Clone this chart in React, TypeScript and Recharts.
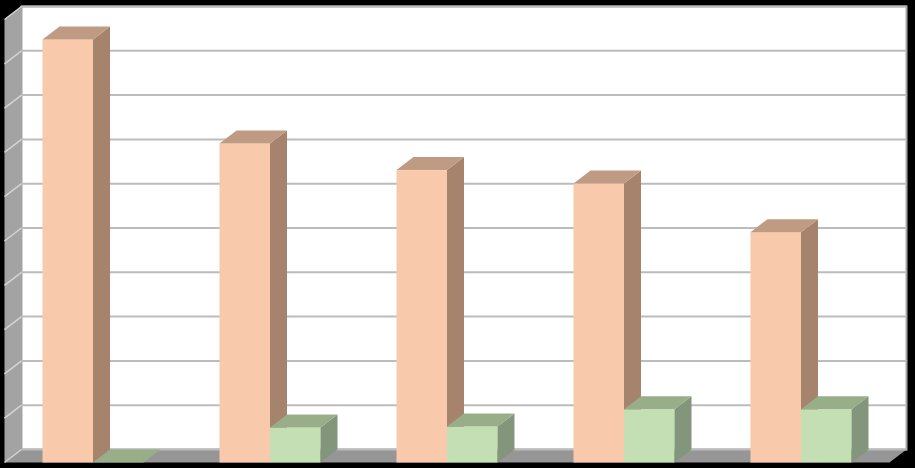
import { BarChart, Bar, XAxis, YAxis, CartesianGrid, ReferenceArea } from 'recharts';

const categories = ['A', 'B', 'C', 'D', 'E'];
const peachValues = [95.5, 72, 66, 63, 52];
const greenValues = [0, 7.9, 8.1, 12, 12];
const valueTicks = [0, 10, 20, 30, 40, 50, 60, 70, 80, 90, 100];

const data = categories.map((name, i) => ({
  name,
  peach: peachValues[i],
  green: greenValues[i],
}));

// 3d offset of the back wall from the front plane
const DX = 17;
const DY = 13;

const peachFaces = { front: '#f8caab', side: '#a6836c', top: '#c09b83' };
const greenFaces = { front: '#c4dfb4', side: '#83957a', top: '#97ae88' };

function box(faces: typeof peachFaces) {
  return function BoxShape(props: any) {
    const { x, y, width, height } = props;
    const r = x + width;
    const b = y + height;
    return (
      <g>
        <rect x={x} y={y} width={width} height={height} fill={faces.front} />
        <polygon
          points={`${r},${y} ${r + DX},${y - DY} ${r + DX},${b - DY} ${r},${b}`}
          fill={faces.side}
        />
        <polygon
          points={`${x},${y} ${x + DX},${y - DY} ${r + DX},${y - DY} ${r},${y}`}
          fill={faces.top}
        />
      </g>
    );
  };
}

function Walls(props: any) {
  const { x, y, width, height } = props;
  const r = x + width;
  const b = y + height;
  return (
    <g>
      <rect x={x + DX} y={y - DY} width={width} height={height} fill="#ffffff" stroke="#a6a6a6" strokeWidth={2} />
      <polygon
        points={`${x},${y} ${x + DX},${y - DY} ${x + DX},${b - DY} ${x},${b}`}
        fill="#a3a3a3"
      />
      <polygon
        points={`${x},${b} ${x + DX},${b - DY} ${r + DX},${b - DY} ${r},${b}`}
        fill="#969696"
      />
    </g>
  );
}

function GridLine(props: any) {
  const { x1, y1, x2, y2 } = props;
  return (
    <g>
      <line x1={x1 + DX} y1={y1 - DY} x2={x2 + DX} y2={y2 - DY} stroke="#bcbcbc" strokeWidth={2} />
      <line x1={x1} y1={y1} x2={x1 + DX} y2={y1 - DY} stroke="#d4d4d4" strokeWidth={1.5} />
    </g>
  );
}

export default function App() {
  return (
    <div style={{ position: 'absolute', left: 0, top: 0, background: '#000000', width: 915, height: 468 }}>
      <BarChart
        width={915}
        height={468}
        data={data}
        barGap={0}
        barSize={50.5}
        margin={{ top: 19.5, right: 25.5, bottom: 5.5, left: 4.5 }}
      >
        <XAxis dataKey="name" hide />
        <YAxis hide domain={[0, 100]} ticks={valueTicks} />
        <ReferenceArea y1={0} y2={100} ifOverflow="visible" shape={Walls} zIndex={-200} />
        <CartesianGrid vertical={false} horizontal={GridLine} />
        <Bar dataKey="peach" shape={box(peachFaces)} isAnimationActive={false} />
        <Bar dataKey="green" shape={box(greenFaces)} isAnimationActive={false} />
      </BarChart>
    </div>
  );
}
